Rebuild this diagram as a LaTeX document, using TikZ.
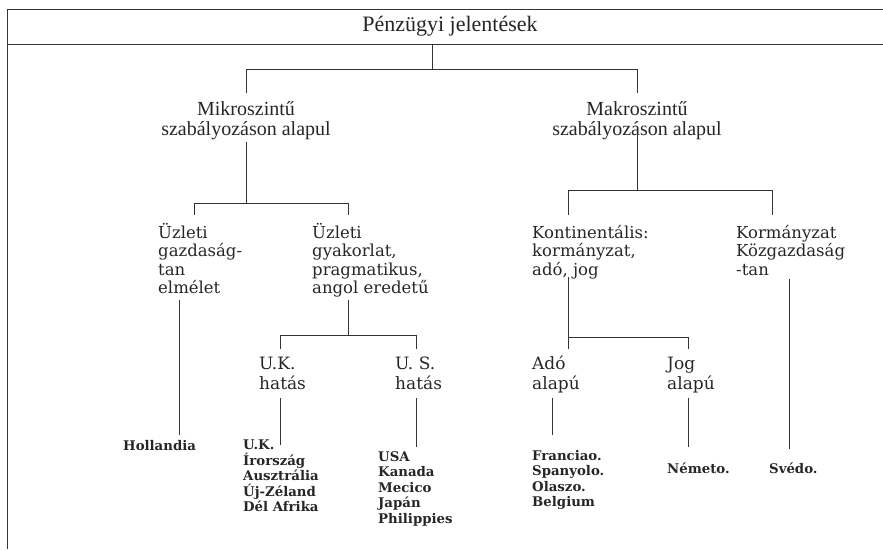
\documentclass[tikz,border=0pt]{standalone}
\usepackage{fontspec}
\setmainfont{Liberation Serif}
\newfontfamily\wideserif{DejaVu Serif}
\usetikzlibrary{positioning}

\begin{document}
\begin{tikzpicture}[x=1pt,y=-1pt,
        every node/.style={inner sep=0pt,text=black!85},
        lvl/.style={font=\fontsize{20}{20}\selectfont,align=center,anchor=north},
        sub/.style={font=\wideserif\fontsize{16.5}{18.5}\selectfont,align=left,anchor=north west},
        eff/.style={font=\wideserif\fontsize{17}{20}\selectfont,align=left,anchor=north west},
        leaf/.style={font=\wideserif\bfseries\fontsize{13.3}{15.5}\selectfont,align=left,anchor=north west},
        line/.style={draw=black!80,line width=0.8pt}]
        \useasboundingbox (0,0) rectangle (883,549);
        % title bar
        \draw[line] (883,9) -- (7,9) -- (7,549);
        \draw[line] (7,44) -- (883,44);
        \node[font=\fontsize{22}{22}\selectfont] (p_0) at (450,26.5) {Pénzügyi jelentések};

        \node[lvl]  (m_1) at (246,101) {Mikroszintű\\szabályozáson alapul};
        \node[lvl]  (m_2) at (637,101) {Makroszintű\\szabályozáson alapul};
        \node[sub]  (u_1) at (158,223) {Üzleti\\gazdaság-\\tan\\elmélet};
        \node[sub]  (u_2) at (312,223) {Üzleti\\gyakorlat,\\pragmatikus,\\angol eredetű};
        \node[sub]  (k_1) at (532,225) {Kontinentális:\\kormányzat,\\adó, jog};
        \node[sub]  (k_2) at (736,225) {Kormányzat\\Közgazdaság\\-tan};
        \node[eff]  (h_1) at (259,357) {U.K.\\hatás};
        \node[eff]  (h_2) at (395,357) {U. S.\\hatás};
        \node[eff]  (a_1) at (532,356) {Adó\\alapú};
        \node[eff]  (a_2) at (667,357) {Jog\\alapú};
        \node[leaf] (c_1) at (123,440) {Hollandia};
        \node[leaf] (c_2) at (243,440) {U.K.\\Írország\\Ausztrália\\Új-Zéland\\Dél Afrika};
        \node[leaf] (c_3) at (378,451) {USA\\Kanada\\Mecico\\Japán\\Philippies};
        \node[leaf] (c_4) at (532,450) {Franciao.\\Spanyolo.\\Olaszo.\\Belgium};
        \node[leaf] (c_5) at (667,463) {Németo.};
        \node[leaf] (c_6) at (769,463) {Svédo.};

        % stub ends and junctions
        \coordinate (p_0 out) at (432,44);
        \coordinate (j_0)     at (432,69);
        \coordinate (m_1 in)  at (246,93);
        \coordinate (m_2 in)  at (637,93);
        \coordinate (m_1 out) at (246,142);
        \coordinate (j_1)     at (246,203);
        \coordinate (u_1 in)  at (194,215);
        \coordinate (u_2 in)  at (348,215);
        \coordinate (m_2 out) at (637,133);
        \coordinate (j_2)     at (637,190);
        \coordinate (k_1 in)  at (568,215);
        \coordinate (k_2 in)  at (772,215);
        \coordinate (u_1 out) at (179,300);
        \coordinate (c_1 in)  at (179,435);
        \coordinate (u_2 out) at (348,300);
        \coordinate (j_3)     at (348,335);
        \coordinate (h_1 in)  at (280,349);
        \coordinate (h_2 in)  at (416,349);
        \coordinate (h_1 out) at (280,398);
        \coordinate (c_2 in)  at (280,445);
        \coordinate (h_2 out) at (416,398);
        \coordinate (c_3 in)  at (416,447);
        \coordinate (k_1 out) at (568,277);
        \coordinate (j_4)     at (568,337);
        \coordinate (a_1 in)  at (568,349);
        \coordinate (a_2 in)  at (688,349);
        \coordinate (a_1 out) at (552,398);
        \coordinate (c_4 in)  at (552,435);
        \coordinate (a_2 out) at (688,398);
        \coordinate (c_5 in)  at (688,447);
        \coordinate (k_2 out) at (789,279);
        \coordinate (c_6 in)  at (789,449);

        \draw[line] (p_0 out) -- (j_0) -| (m_1 in);
        \draw[line] (j_0) -| (m_2 in);
        \draw[line] (m_1 out) -- (j_1) -| (u_1 in);
        \draw[line] (j_1) -| (u_2 in);
        \draw[line] (m_2 out) -- (j_2) -| (k_1 in);
        \draw[line] (j_2) -| (k_2 in);
        \draw[line] (u_1 out) -- (c_1 in);
        \draw[line] (u_2 out) -- (j_3) -| (h_1 in);
        \draw[line] (j_3) -| (h_2 in);
        \draw[line] (h_1 out) -- (c_2 in);
        \draw[line] (h_2 out) -- (c_3 in);
        \draw[line] (k_1 out) -- (a_1 in);
        \draw[line] (j_4) -| (a_2 in);
        \draw[line] (a_1 out) -- (c_4 in);
        \draw[line] (a_2 out) -- (c_5 in);
        \draw[line] (k_2 out) -- (c_6 in);
\end{tikzpicture}
\end{document}
